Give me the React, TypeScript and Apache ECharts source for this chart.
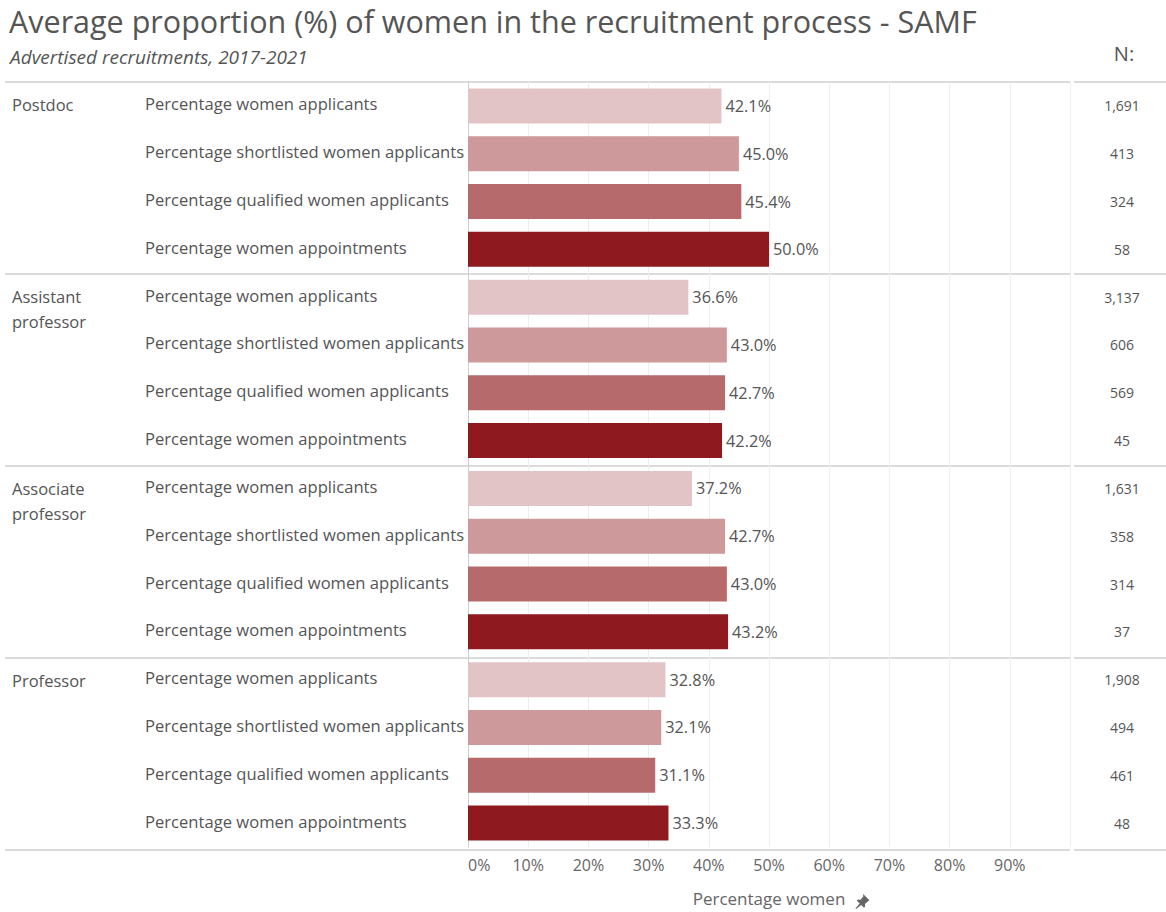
import React, { useEffect, useRef } from "react";
import * as echarts from "echarts";

const groups = ["Postdoc", "Assistant\nprofessor", "Associate\nprofessor", "Professor"];
const measures = [
  "Percentage women applicants",
  "Percentage shortlisted women applicants",
  "Percentage qualified women applicants",
  "Percentage women appointments",
];
const measureColors = ["#E2C4C6", "#CD999A", "#B76A6B", "#8E1A1F"];
const postdocValues = [42.1, 45.0, 45.4, 50.0];
const assistantValues = [36.6, 43.0, 42.7, 42.2];
const associateValues = [37.2, 42.7, 43.0, 43.2];
const professorValues = [32.8, 32.1, 31.1, 33.3];
const postdocN = [1691, 413, 324, 58];
const assistantN = [3137, 606, 569, 45];
const associateN = [1631, 358, 314, 37];
const professorN = [1908, 494, 461, 48];
const xTicks = [0, 10, 20, 30, 40, 50, 60, 70, 80, 90, 100];

const TITLE = "Average proportion (%) of women in the recruitment process - SAMF";
const SUBTITLE = "Advertised recruitments, 2017-2021";
const FONT = "'Open Sans', 'Noto Sans', sans-serif";

const W = 1166;
const H = 912;
const GRID_LEFT = 468;
const GRID_RIGHT_X = 1070;
const GRID_TOP = 82;
const GRID_BOTTOM_Y = 850;

export default function App() {
  const ref = useRef<HTMLDivElement>(null);
  useEffect(() => {
    if (!ref.current) return;
    echarts.graphic.registerShape(
      "pin",
      echarts.graphic.extendPath(
        "M9 0 L16 7 L14.5 8 L11 11.2 L11.3 14 L10 15.3 L6.8 12.1 L1.3 16.8 L0.5 16 L5.2 10.5 L2 7.3 L3.3 6 L6.1 6.3 L9.2 2.7 Z",
        {}
      )
    );
    const chart = echarts.init(ref.current, null, { renderer: "svg" });
    const allValues = [postdocValues, assistantValues, associateValues, professorValues];
    const allN = [postdocN, assistantN, associateN, professorN];
    const cats: string[] = [];
    const nLabels: string[] = [];
    const barData: any[] = [];
    groups.forEach((g, gi) => {
      measures.forEach((m, mi) => {
        cats.push(gi + "|" + mi);
        nLabels.push(allN[gi][mi].toLocaleString("en-US"));
        barData.push({ value: allValues[gi][mi], itemStyle: { color: measureColors[mi] } });
      });
    });
    const nRows = cats.length;
    const rowH = (GRID_BOTTOM_Y - GRID_TOP) / nRows;
    const groupH = rowH * measures.length;

    const graphics: any[] = [
      {
        type: "text",
        left: 9,
        top: 5,
        style: { text: TITLE, font: `30.5px ${FONT}`, fill: "#555" },
      },
      {
        type: "text",
        left: 10,
        top: 47,
        style: { text: SUBTITLE, font: `italic 19px ${FONT}`, fill: "#555" },
      },
      {
        type: "text",
        x: 1124,
        y: 53,
        style: { text: "N:", font: `20px ${FONT}`, fill: "#555", align: "center", verticalAlign: "middle" },
      },
    ];
    for (let k = 0; k <= groups.length; k++) {
      const y = GRID_TOP + k * groupH;
      graphics.push({
        type: "line",
        shape: { x1: 5, y1: y, x2: GRID_RIGHT_X, y2: y },
        style: { stroke: "#cfcfcf", lineWidth: 1.5 },
        silent: true,
      });
      graphics.push({
        type: "line",
        shape: { x1: GRID_RIGHT_X + 4, y1: y, x2: W, y2: y },
        style: { stroke: "#cfcfcf", lineWidth: 1.5 },
        silent: true,
      });
    }
    groups.forEach((g, gi) => {
      graphics.push({
        type: "text",
        x: 12,
        y: GRID_TOP + gi * groupH + rowH / 2 - 14.5,
        style: { text: g, font: `16.5px ${FONT}`, fill: "#555", lineHeight: 25, verticalAlign: "top" },
      });
    });
    graphics.push({
      type: "pin",
      x: 855,
      y: 894,
      scaleX: 0.9,
      scaleY: 0.9,
      style: { fill: "#666" },
    });

    chart.setOption({
      animation: false,
      textStyle: { fontFamily: FONT },
      grid: {
        left: GRID_LEFT,
        right: W - GRID_RIGHT_X,
        top: GRID_TOP,
        bottom: H - GRID_BOTTOM_Y,
        containLabel: false,
      },
      xAxis: {
        type: "value",
        min: xTicks[0],
        max: xTicks[xTicks.length - 1],
        interval: 10,
        axisLine: { show: false },
        axisTick: { show: false },
        splitLine: { show: true, lineStyle: { color: "#eeeeee", width: 1 } },
        axisLabel: {
          margin: 10,
          fontSize: 16,
          color: "#666",
          fontFamily: FONT,
          alignMinLabel: "left",
          formatter: (v: number) => (v >= 100 ? "" : v + "%"),
        },
        name: "Percentage women",
        nameLocation: "middle",
        nameGap: 43,
        nameTextStyle: { fontSize: 17, color: "#666", fontFamily: FONT },
      },
      yAxis: [
        {
          type: "category",
          data: cats,
          inverse: true,
          axisLine: { show: true, lineStyle: { color: "#c8c8c8", type: "dotted", width: 1 } },
          axisTick: { show: false },
          splitLine: { show: false },
          axisLabel: {
            align: "left",
            margin: GRID_LEFT - 145,
            fontSize: 16.6,
            color: "#555",
            fontFamily: FONT,
            interval: 0,
            formatter: (v: string) => "{m|" + measures[Number(v.split("|")[1])] + "}",
            rich: { m: { fontSize: 16.6, color: "#555", fontFamily: FONT, padding: [0, 0, 4, 0] } },
          },
        },
        {
          type: "category",
          data: nLabels,
          inverse: true,
          position: "right",
          axisLine: { show: false },
          axisTick: { show: false },
          splitLine: { show: false },
          axisLabel: {
            align: "center",
            margin: 52,
            fontSize: 14,
            color: "#555",
            fontFamily: FONT,
            interval: 0,
          },
        },
      ],
      series: [
        {
          type: "bar",
          yAxisIndex: 0,
          data: barData,
          barWidth: 35,
          label: {
            show: true,
            position: "right",
            distance: 4,
            fontSize: 16.3,
            color: "#555",
            fontFamily: FONT,
            formatter: (p: any) => Number(p.value).toFixed(1) + "%",
          },
        },
      ],
      graphic: graphics,
    });
    return () => chart.dispose();
  }, []);
  return (
    <div
      ref={ref}
      style={{ position: "fixed", left: 0, top: 0, width: W, height: H, background: "#fff" }}
    />
  );
}
